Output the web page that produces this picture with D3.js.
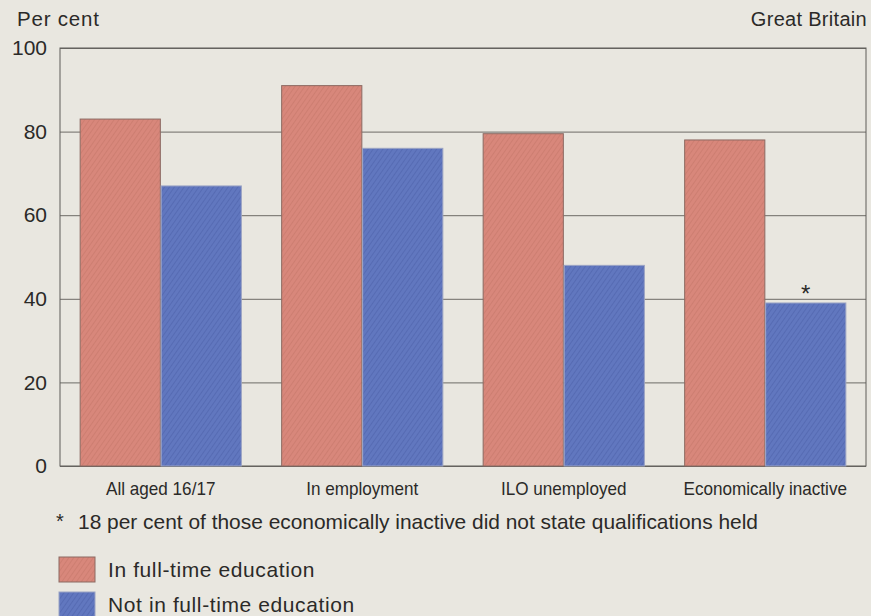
<!DOCTYPE html>
<html>
<head>
<meta charset="utf-8">
<script src="https://cdn.jsdelivr.net/npm/d3@7"></script>
<style>
  html, body { margin: 0; padding: 0; background: #e9e7e0; }
  svg { display: block; }
</style>
</head>
<body>
<svg id="chart" width="871" height="616"></svg>
<script>
// Share of 16/17 year olds holding qualifications, by economic activity
const categories = ["All aged 16/17", "In employment", "ILO unemployed", "Economically inactive"];
const seriesNames = ["In full-time education", "Not in full-time education"];
const inFullTime = [83, 91, 79.5, 78];
const notInFullTime = [67, 76, 48, 39];
const yTicks = [0, 20, 40, 60, 80, 100];
const footnote = "18 per cent of those economically inactive did not state qualifications held";
const starredCategory = "Economically inactive";

const colors = { fill: ["#d8877b", "#6177bf"], line: ["#b86b5e", "#40549c"], edge: ["#8c6a62", "#9aa3c4"] };
const sans = "'Liberation Sans', Arial, Helvetica, sans-serif";
const ink = "#2b2a28";

const svg = d3.select("#chart");
const W = 871, H = 616;
const m = { left: 60, right: 5, top: 48, bottom: 150 };
const plotW = W - m.left - m.right, plotH = H - m.top - m.bottom;

// squeeze a text node horizontally to a share of its natural width
function condense(sel, k) {
  sel.each(function () {
    const w = this.getComputedTextLength();
    d3.select(this).attr("textLength", w * k).attr("lengthAdjust", "spacingAndGlyphs");
  });
}

// diagonal hatching for bar fills
const defs = svg.append("defs");
seriesNames.forEach((s, i) => {
  const p = defs.append("pattern")
    .attr("id", "hatch" + i)
    .attr("patternUnits", "userSpaceOnUse")
    .attr("width", 4).attr("height", 4)
    .attr("patternTransform", "rotate(-55)");
  p.append("rect").attr("width", 4).attr("height", 4).attr("fill", colors.fill[i]);
  p.append("line").attr("x1", 0).attr("y1", 0).attr("x2", 4).attr("y2", 0)
    .attr("stroke", colors.line[i]).attr("stroke-width", 1.4).attr("opacity", 0.5);
});

const x0 = d3.scaleBand().domain(categories).range([m.left, m.left + plotW])
  .paddingInner(0.2).paddingOuter(0.1);
const x1 = d3.scaleBand().domain(seriesNames).range([0, x0.bandwidth()]).paddingInner(0.01);
const y = d3.scaleLinear().domain([0, 100]).range([m.top + plotH, m.top]);

const g = svg.append("g");

// gridlines
const grid = g.append("g").attr("transform", `translate(${m.left},0)`)
  .call(d3.axisLeft(y).tickValues(yTicks).tickSize(-plotW).tickFormat(""));
grid.select(".domain").remove();
grid.selectAll(".tick line").attr("stroke", "#6d6b66").attr("stroke-width", 1);

// frame
g.append("rect").attr("x", m.left).attr("y", m.top).attr("width", plotW).attr("height", plotH)
  .attr("fill", "none").attr("stroke", "#5e5c58").attr("stroke-width", 1);

// y tick labels
const yAx = svg.append("g").attr("transform", `translate(${m.left - 13},0)`)
  .call(d3.axisLeft(y).tickValues(yTicks).tickSize(0).tickPadding(0));
yAx.select(".domain").remove();
yAx.selectAll("text").attr("font-family", sans).attr("font-size", 21).attr("fill", ink);

// bars
const data = categories.map((c, i) => ({ c, vals: [inFullTime[i], notInFullTime[i]] }));
const groups = g.selectAll(".grp").data(data).enter().append("g")
  .attr("transform", d => `translate(${x0(d.c)},0)`);
groups.selectAll("rect").data(d => d.vals.map((v, i) => ({ v, i, s: seriesNames[i] })))
  .enter().append("rect")
  .attr("x", d => x1(d.s))
  .attr("y", d => y(d.v))
  .attr("width", x1.bandwidth())
  .attr("height", d => y(0) - y(d.v))
  .attr("fill", d => `url(#hatch${d.i})`)
  .attr("stroke", d => colors.edge[d.i])
  .attr("stroke-width", 1);

// asterisk above the starred bar
svg.append("text")
  .attr("x", x0(starredCategory) + x1(seriesNames[1]) + x1.bandwidth() / 2)
  .attr("y", y(notInFullTime[categories.indexOf(starredCategory)]) - 1)
  .attr("text-anchor", "middle")
  .attr("font-family", sans)
  .attr("font-size", 24).attr("fill", ink).text("*");

// category labels
svg.append("g").selectAll("text").data(categories).enter().append("text")
  .attr("x", d => x0(d) + x0.bandwidth() / 2)
  .attr("y", y(0) + 29)
  .attr("text-anchor", "middle")
  .attr("font-family", sans)
  .attr("font-size", 19).attr("fill", ink)
  .text(d => d)
  .call(condense, 0.9);

// titles
svg.append("text").attr("x", 17).attr("y", 26)
  .attr("font-family", sans).attr("font-size", 20.5).attr("fill", ink)
  .attr("letter-spacing", 0.8).text("Per cent");
svg.append("text").attr("x", 867).attr("y", 26).attr("text-anchor", "end")
  .attr("font-family", sans).attr("font-size", 20).attr("fill", ink)
  .attr("letter-spacing", 0.3).text("Great Britain");

// footnote
svg.append("text").attr("x", 56).attr("y", 528)
  .attr("font-family", sans).attr("font-size", 20).attr("fill", ink).text("*");
svg.append("text").attr("x", 78).attr("y", 529)
  .attr("font-family", sans).attr("font-size", 21).attr("fill", ink)
  .attr("textLength", 680).attr("lengthAdjust", "spacingAndGlyphs")
  .text(footnote);

// legend
const leg = svg.append("g").selectAll("g").data(seriesNames).enter().append("g")
  .attr("transform", (d, i) => `translate(59,${557 + i * 35})`);
leg.append("rect").attr("width", 36).attr("height", 25)
  .attr("fill", (d, i) => `url(#hatch${i})`)
  .attr("stroke", (d, i) => colors.edge[i]).attr("stroke-width", 1);
leg.append("text").attr("x", 49).attr("y", 20)
  .attr("font-family", sans).attr("font-size", 21).attr("fill", ink)
  .attr("letter-spacing", 0.6)
  .text(d => d);
</script>
</body>
</html>
